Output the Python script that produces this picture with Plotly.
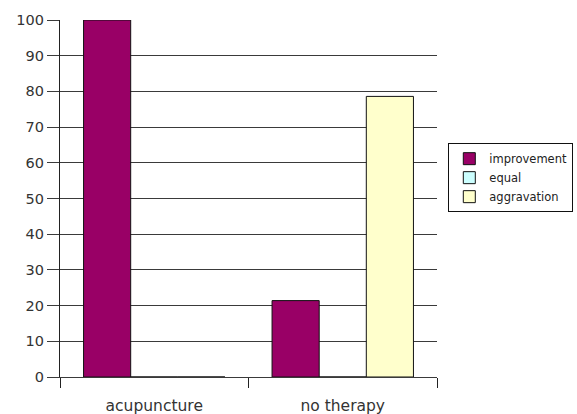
import plotly.graph_objects as go

categories = ["acupuncture", "no therapy"]
improvement = [100, 21.4]
equal = [0, 0]
aggravation = [0, 78.6]
y_ticks = [0, 10, 20, 30, 40, 50, 60, 70, 80, 90, 100]

colors = {"improvement": "#990066", "equal": "#CCFFFF", "aggravation": "#FFFFCC"}

fig = go.Figure()
for name, vals in [("improvement", improvement), ("equal", equal), ("aggravation", aggravation)]:
    fig.add_trace(go.Bar(
        x=categories, y=vals, name=name,
        marker=dict(color=colors[name], line=dict(color="#111111", width=1)),
    ))

fig.update_layout(
    width=577, height=414,
    margin=dict(l=60, r=140, t=20, b=37, autoexpand=False),
    paper_bgcolor="white", plot_bgcolor="white",
    barmode="group", bargap=0.25, bargroupgap=0,
    font=dict(family="DejaVu Sans, Arial, sans-serif", color="#333333", size=14.5),
    legend=dict(
        x=1.03, y=0.655, xanchor="left", yanchor="top",
        bordercolor="#111111", borderwidth=1,
        font=dict(size=11.5, color="#222222", family="DejaVu Sans, Arial, sans-serif"),
        tracegroupgap=0, itemwidth=30,
    ),
    showlegend=True,
)
fig.update_yaxes(
    range=[0, 100], tickvals=y_ticks, showgrid=True, gridcolor="#3a3a3a", gridwidth=1.2,
    ticks="outside", ticklen=12, tickcolor="#3a3a3a",
    showline=True, linecolor="#222222", linewidth=1.2,
    zeroline=False, fixedrange=True,
)
fig.update_xaxes(
    showline=True, linecolor="#3a3a3a", linewidth=1.2,
    ticks="outside", tickson="boundaries", ticklen=10, tickcolor="#222222",
    ticklabelstandoff=14, tickfont=dict(size=15.5),
    showgrid=False,
)

fig.write_html("out.html")
